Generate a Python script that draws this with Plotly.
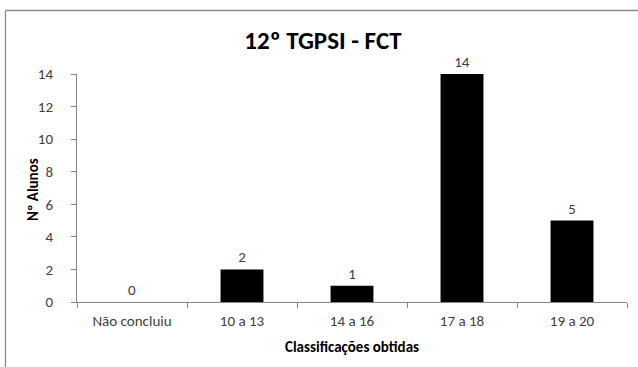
import plotly.graph_objects as go

# dados do gráfico
categorias = ["Não concluiu", "10 a 13", "14 a 16", "17 a 18", "19 a 20"]
alunos = [0, 2, 1, 14, 5]
y_ticks = [0, 2, 4, 6, 8, 10, 12, 14]

W, H = 638, 367
L, T = 77, 74
R = W - 627
B = H - 302
pw, ph = W - L - R, H - T - B

FONTE = "Carlito, Calibri, Liberation Sans Narrow, Roboto, sans-serif"


def px_x(p):
    return (p - L) / pw


def px_y(p):
    return (H - B - p) / ph


fig = go.Figure()
fig.add_trace(go.Bar(
    x=categorias, y=alunos, width=0.39,
    marker=dict(color="black", line=dict(width=0)),
    text=[str(v) for v in alunos], textposition="outside",
    textfont=dict(color="#404040", size=15, family=FONTE),
    cliponaxis=False, hoverinfo="skip",
))

# moldura cinzenta (cortada à direita e em baixo)
fig.add_shape(type="line", xref="paper", yref="paper",
              x0=px_x(5.5), x1=px_x(640), y0=px_y(10.5), y1=px_y(10.5),
              line=dict(color="#8c8c8c", width=1.3))
fig.add_shape(type="line", xref="paper", yref="paper",
              x0=px_x(5.5), x1=px_x(5.5), y0=px_y(10.5), y1=px_y(368),
              line=dict(color="#8c8c8c", width=1.3))

fig.update_layout(
    width=W, height=H,
    margin=dict(l=L, r=R, t=T, b=B, autoexpand=False),
    paper_bgcolor="white", plot_bgcolor="white",
    font=dict(family=FONTE, color="#404040", size=15),
    title=dict(text="<b>12º TGPSI - FCT</b>", x=px_x(323), xref="paper", xanchor="center",
               y=1 - 40 / H, yanchor="middle", font=dict(size=25, color="black")),
    showlegend=False,
    annotations=[
        dict(text="<b>Classificações obtidas</b>", xref="paper", yref="paper",
             x=px_x(352), y=px_y(347), xanchor="center", yanchor="middle",
             showarrow=False, font=dict(size=15, color="black")),
        dict(text="<b>Nº Alunos</b>", xref="paper", yref="paper",
             x=px_x(33), y=px_y(190), xanchor="center", yanchor="middle",
             showarrow=False, textangle=-90, font=dict(size=15, color="black")),
    ],
)
fig.update_xaxes(
    showline=True, linecolor="#868686", linewidth=1,
    ticks="outside", tickson="boundaries", ticklen=5, tickcolor="#868686",
    showgrid=False, tickfont=dict(size=15, color="#404040"), ticklabelstandoff=5,
)
fig.update_yaxes(
    range=[0, 14], tickvals=y_ticks, showline=True, linecolor="#868686", linewidth=1,
    ticks="outside", ticklen=5, tickcolor="#868686", showgrid=False, zeroline=False,
    tickfont=dict(size=15, color="#404040"), ticklabelstandoff=15,
)

fig.write_html("out.html", config={"displayModeBar": False},
               post_script="document.body.style.margin='0';")
